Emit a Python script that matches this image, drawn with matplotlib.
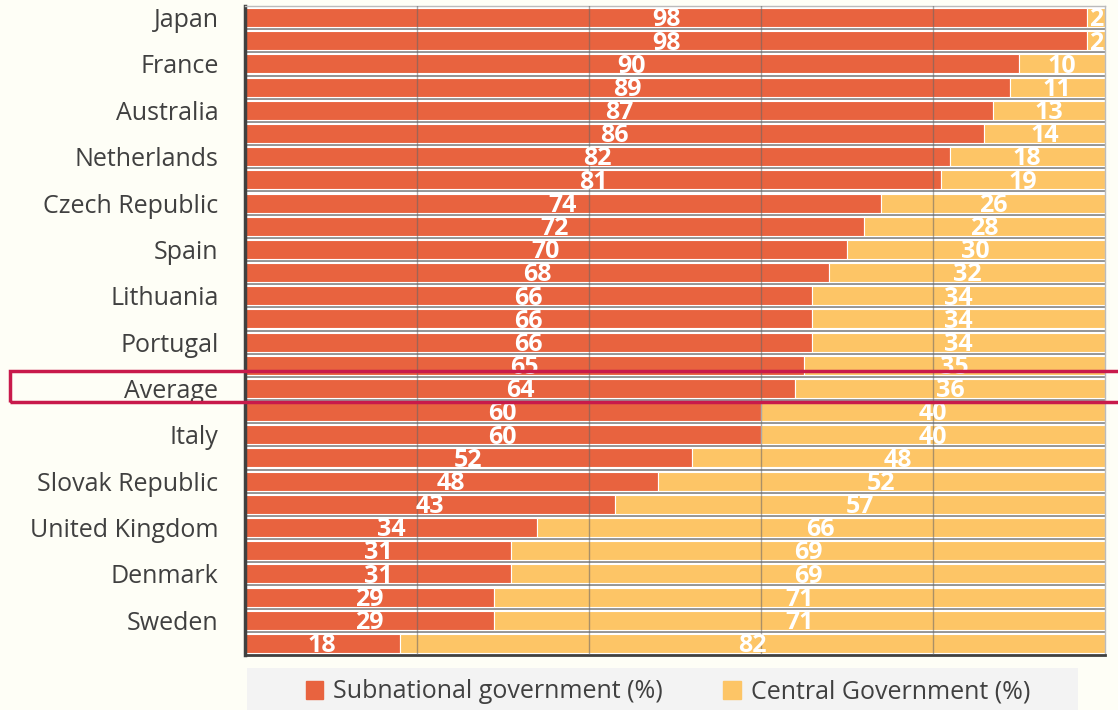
import matplotlib.pyplot as plt
from matplotlib.patches import Rectangle, Patch

# Data (top to bottom)
countries = ['Japan', '', 'France', '', 'Australia', '', 'Netherlands', '',
             'Czech Republic', '', 'Spain', '', 'Lithuania', '', 'Portugal', '',
             'Average', '', 'Italy', '', 'Slovak Republic', '', 'United Kingdom', '',
             'Denmark', '', 'Sweden', '']
subnational = [98, 98, 90, 89, 87, 86, 82, 81, 74, 72, 70, 68, 66, 66, 66, 65,
               64, 60, 60, 52, 48, 43, 34, 31, 31, 29, 29, 18]
central = [2, 2, 10, 11, 13, 14, 18, 19, 26, 28, 30, 32, 34, 34, 34, 35,
           36, 40, 40, 48, 52, 57, 66, 69, 69, 71, 71, 82]

red = '#E8633F'
yellow = '#FDC566'

plt.rcParams['font.family'] = ['Open Sans', 'DejaVu Sans']

fig = plt.figure(figsize=(11.18, 7.10), dpi=100, facecolor='#FEFEF6')
ax = fig.add_axes([0.219, 0.0775, 0.769, 0.914])
ax.set_facecolor('white')

n = len(countries)
ypos = list(range(n))
ax.barh(ypos, subnational, height=0.82, color=red, edgecolor='white', linewidth=0.8, zorder=2)
ax.barh(ypos, central, left=subnational, height=0.82, color=yellow, edgecolor='white',
        linewidth=0.8, zorder=2)

for y, s, c in zip(ypos, subnational, central):
    ax.text(s / 2, y + 0.1, str(s), ha='center', va='center', color='white',
            fontsize=18, fontweight='bold', zorder=4)
    ax.text(s + c / 2, y + 0.1, str(c), ha='center', va='center', color='white',
            fontsize=18, fontweight='bold', zorder=4)

# separators between bars
for i in range(n - 1):
    ax.axhline(i + 0.5, color='#777777', lw=1.1, zorder=1)
for x in [20, 40, 60, 80]:
    ax.axvline(x, color='#666666', lw=1, alpha=0.55, zorder=3)

ax.set_xlim(0, 100)
ax.set_ylim(n - 0.5, -0.5)
ax.set_yticks(ypos)
ax.set_yticklabels(countries, fontsize=18, color='#404040')
ax.set_xticks([])
ax.tick_params(axis='y', length=0, pad=19)

for side in ['top', 'right']:
    ax.spines[side].set_color('#BBBBBB')
    ax.spines[side].set_linewidth(1)
ax.spines['left'].set_color('#404040')
ax.spines['left'].set_linewidth(2.5)
ax.spines['bottom'].set_color('#404040')
ax.spines['bottom'].set_linewidth(2)

# highlight box around Average row
fig.patches.append(Rectangle((10 / 1118, 1 - 402 / 710), 1.2, 31 / 710,
                             transform=fig.transFigure, fill=False,
                             edgecolor='#C81A4B', lw=2.5, zorder=10))

# legend on grey band
fig.patches.append(Rectangle((247 / 1118, 0), (1078 - 247) / 1118, 42 / 710,
                             transform=fig.transFigure, facecolor='#F3F3F3',
                             edgecolor='none', zorder=0))
handles = [Patch(color=red, label='Subnational government (%)'),
           Patch(color=yellow, label='Central Government (%)')]
leg = fig.legend(handles=handles, loc='center', bbox_to_anchor=(668 / 1118, 1 - 692 / 710),
                 ncol=2, frameon=False, fontsize=18, handlelength=0.7, handleheight=0.7,
                 handletextpad=0.4, columnspacing=2.4)
for t in leg.get_texts():
    t.set_color('#404040')

fig.savefig('out.png', dpi=100, facecolor=fig.get_facecolor())
